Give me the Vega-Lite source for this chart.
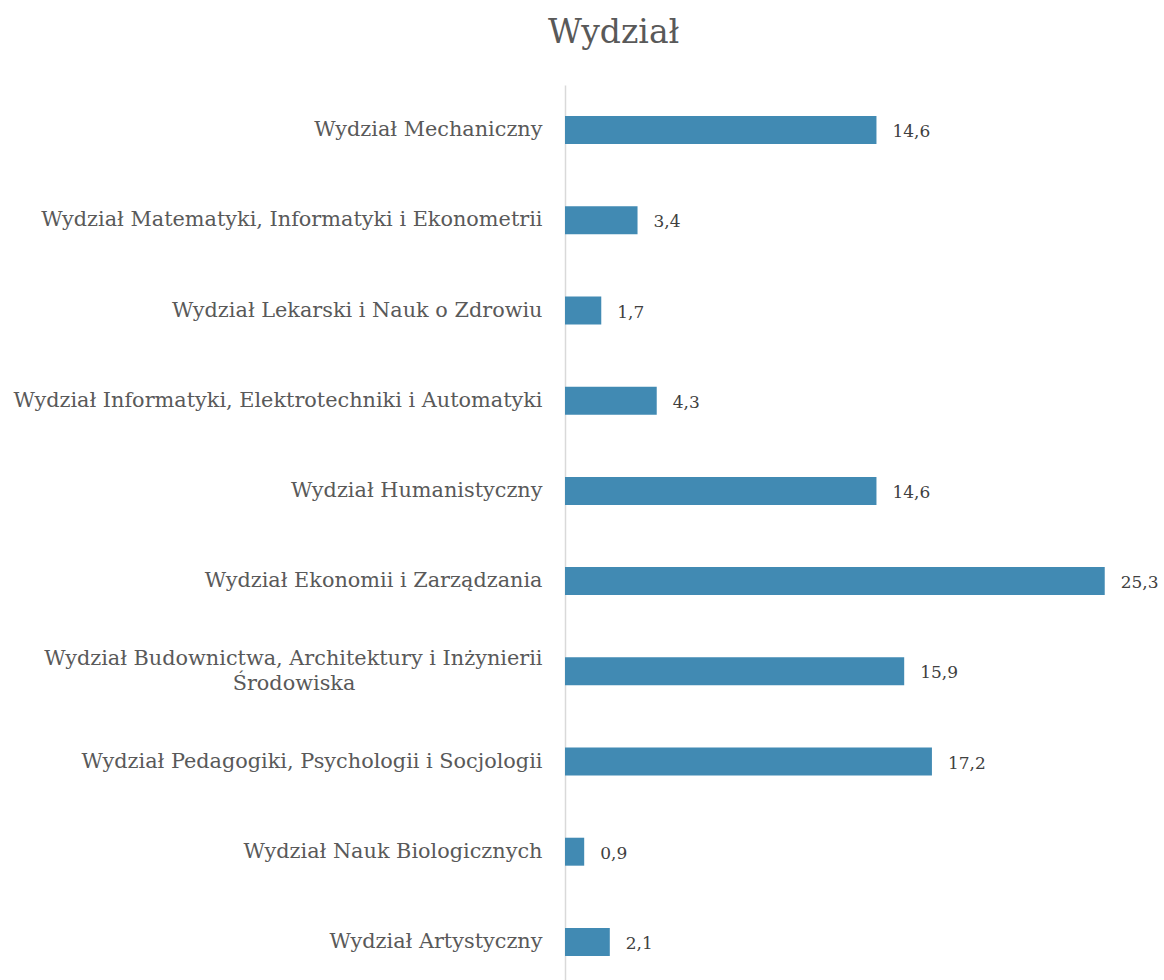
{
  "$schema": "https://vega.github.io/schema/vega-lite/v6.json",
  "autosize": "none",
  "width": 576,
  "height": 902,
  "padding": {"left": 565, "top": 85, "right": 23, "bottom": 0},
  "background": "white",
  "config": {
    "locale": {"number": {"decimal": ",", "thousands": " ", "grouping": [3], "currency": ["", " zł"]}},
    "view": {"stroke": null},
    "font": "DejaVu Serif"
  },
  "title": {
    "text": "Wydział",
    "font": "DejaVu Serif",
    "fontSize": 33,
    "fontWeight": "normal",
    "color": "#595959",
    "anchor": "start",
    "frame": "group",
    "dx": -17,
    "offset": 35
  },
  "data": {
    "values": [
      {"wydzial": "Wydział Mechaniczny", "wartosc": 14.6},
      {"wydzial": "Wydział Matematyki, Informatyki i Ekonometrii", "wartosc": 3.4},
      {"wydzial": "Wydział Lekarski i Nauk o Zdrowiu", "wartosc": 1.7},
      {"wydzial": "Wydział Informatyki, Elektrotechniki i Automatyki", "wartosc": 4.3},
      {"wydzial": "Wydział Humanistyczny", "wartosc": 14.6},
      {"wydzial": "Wydział Ekonomii i Zarządzania", "wartosc": 25.3},
      {"wydzial": "Wydział Budownictwa, Architektury i Inżynierii Środowiska", "wartosc": 15.9},
      {"wydzial": "Wydział Pedagogiki, Psychologii i Socjologii", "wartosc": 17.2},
      {"wydzial": "Wydział Nauk Biologicznych", "wartosc": 0.9},
      {"wydzial": "Wydział Artystyczny", "wartosc": 2.1}
    ]
  },
  "encoding": {
    "y": {
      "field": "wydzial",
      "type": "nominal",
      "sort": null,
      "scale": {"paddingInner": 0.69, "paddingOuter": 0.345},
      "axis": {
        "title": null,
        "ticks": false,
        "domainColor": "#d9d9d9",
        "domainWidth": 1.5,
        "labelFont": "DejaVu Serif",
        "labelFontSize": 20.8,
        "labelColor": "#595959",
        "labelPadding": 23,
        "labelLimit": 600,
        "labelLineHeight": 25,
        "labelOffset": {"condition": {"test": "datum.label == 'Wydział Budownictwa, Architektury i Inżynierii Środowiska'", "value": -12}, "value": 0},
        "labelExpr": "datum.label == 'Wydział Budownictwa, Architektury i Inżynierii Środowiska' ? ['Wydział Budownictwa, Architektury i Inżynierii', 'Środowiska\u2003\u2003\u2003\u2003\u2003\u2003\u2003\u2003\u2003\u2060'] : datum.label"
      }
    },
    "x": {
      "field": "wartosc",
      "type": "quantitative",
      "scale": {"domain": [0, 27], "nice": false},
      "axis": null
    }
  },
  "layer": [
    {"mark": {"type": "bar", "color": "#418AB3"}},
    {
      "mark": {"type": "text", "align": "left", "baseline": "middle", "dx": 16, "dy": 2, "font": "DejaVu Serif", "fontSize": 17, "color": "#404040"},
      "encoding": {"text": {"field": "wartosc", "type": "quantitative", "format": ".1f"}}
    }
  ]
}
